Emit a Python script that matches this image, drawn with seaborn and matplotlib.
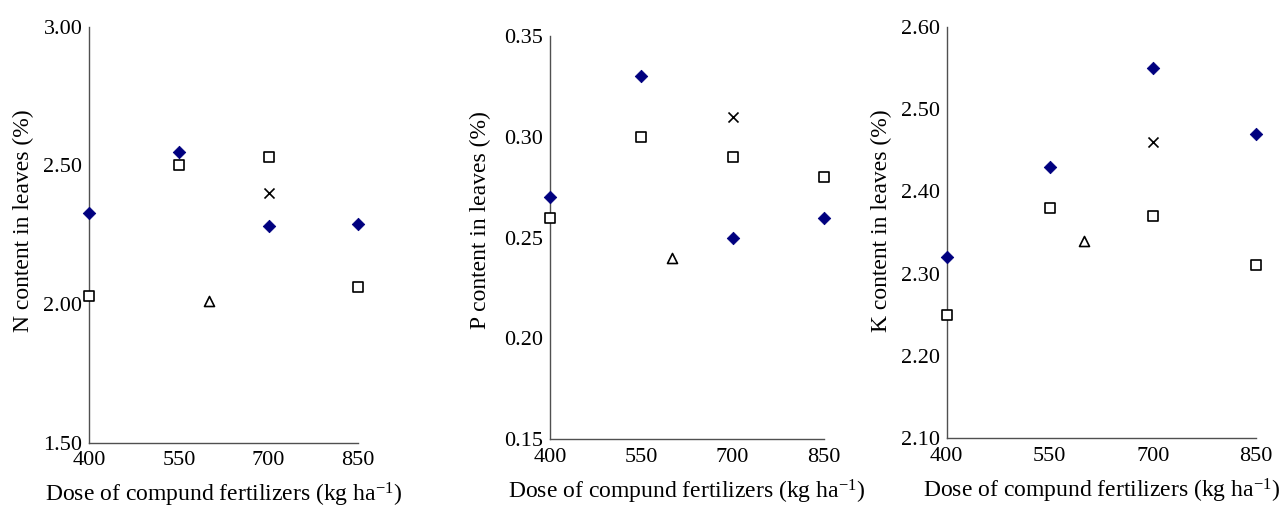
import matplotlib
matplotlib.use("Agg")
import matplotlib.pyplot as plt
import seaborn as sns
import pandas as pd

# Doses of compound fertilizer (kg/ha)
doses = [400, 550, 700, 850]
dose_triangle = [600]
dose_cross = [700]

# Leaf N content (%)
n_diamond = [2.33, 2.55, 2.28, 2.29]
n_square = [2.03, 2.50, 2.53, 2.06]
n_triangle = [2.01]
n_cross = [2.40]

# Leaf P content (%)
p_diamond = [0.27, 0.33, 0.25, 0.26]
p_square = [0.26, 0.30, 0.29, 0.28]
p_triangle = [0.24]
p_cross = [0.31]

# Leaf K content (%)
k_diamond = [2.32, 2.43, 2.55, 2.47]
k_square = [2.25, 2.38, 2.37, 2.31]
k_triangle = [2.34]
k_cross = [2.46]

x_ticks = [400, 550, 700, 850]
n_ticks = [1.50, 2.00, 2.50, 3.00]
p_ticks = [0.15, 0.20, 0.25, 0.30, 0.35]
k_ticks = [2.10, 2.20, 2.30, 2.40, 2.50, 2.60]

y_labels = ["N content in leaves (%)", "P content in leaves (%)", "K content in leaves (%)"]
x_label = "Dose of compund fertilizers (kg ha$^{\\mathregular{-1}}$)"

sns.set_theme(style="white")
plt.rcParams["font.family"] = ["Liberation Serif", "DejaVu Serif"]
plt.rcParams["mathtext.fontset"] = "custom"
plt.rcParams["mathtext.rm"] = "Liberation Serif"
plt.rcParams["mathtext.it"] = "Liberation Serif:italic"

def build_frame(diamond, square, triangle, cross):
    parts = [
        pd.DataFrame({"dose": doses, "value": diamond, "group": "diamond"}),
        pd.DataFrame({"dose": doses, "value": square, "group": "square"}),
        pd.DataFrame({"dose": dose_triangle, "value": triangle, "group": "triangle"}),
        pd.DataFrame({"dose": dose_cross, "value": cross, "group": "cross"}),
    ]
    return pd.concat(parts, ignore_index=True)

frames = [
    build_frame(n_diamond, n_square, n_triangle, n_cross),
    build_frame(p_diamond, p_square, p_triangle, p_cross),
    build_frame(k_diamond, k_square, k_triangle, k_cross),
]
tick_sets = [n_ticks, p_ticks, k_ticks]

styles = {
    "diamond": dict(marker="D", s=40, color="#00007f", edgecolor="#00007f", linewidth=0.6),
    "square": dict(marker="s", s=46, color="white", edgecolor="black", linewidth=1.2),
    "triangle": dict(marker="^", s=52, color="white", edgecolor="black", linewidth=1.2),
    "cross": dict(marker="x", s=52, color="black", linewidth=1.2),
}

fig = plt.figure(figsize=(12.85, 5.08), dpi=100)
boxes = [
    (0.0695, 0.1285, 0.2093, 0.8189),
    (0.4280, 0.1352, 0.2132, 0.7939),
    (0.7367, 0.1372, 0.2405, 0.8102),
]
ylabel_pos = [(-0.245, 0.533), (-0.255, 0.544), (-0.21, 0.528)]

for i, (df, ticks, box) in enumerate(zip(frames, tick_sets, boxes)):
    ax = fig.add_axes(box)
    for grp, st in styles.items():
        sub = df[df["group"] == grp]
        sns.scatterplot(data=sub, x="dose", y="value", ax=ax, legend=False,
                        clip_on=False, zorder=3, **st)
    ax.set_xlim(400, 850)
    ax.set_ylim(ticks[0], ticks[-1])
    ax.set_xticks(x_ticks)
    ax.set_xticklabels([str(v) for v in x_ticks])
    ax.set_yticks(ticks)
    ax.set_yticklabels([f"{v:.2f}" for v in ticks])
    for side in ("top", "right"):
        ax.spines[side].set_visible(False)
    for side in ("left", "bottom"):
        ax.spines[side].set_color("#505050")
        ax.spines[side].set_linewidth(1.0)
    ax.tick_params(axis="both", direction="out", length=3, width=1.0,
                   color="#505050", labelsize=16, labelcolor="black", pad=2)
    ax.tick_params(axis="x", pad=3)
    ax.set_xlabel(x_label, fontsize=17, labelpad=8, color="black")
    ax.set_ylabel(y_labels[i], fontsize=17, color="black")
    ax.yaxis.label.set_va("center")
    ax.yaxis.set_label_coords(*ylabel_pos[i])
    ax.grid(False)

fig.savefig("out.png", dpi=100, facecolor="white")
